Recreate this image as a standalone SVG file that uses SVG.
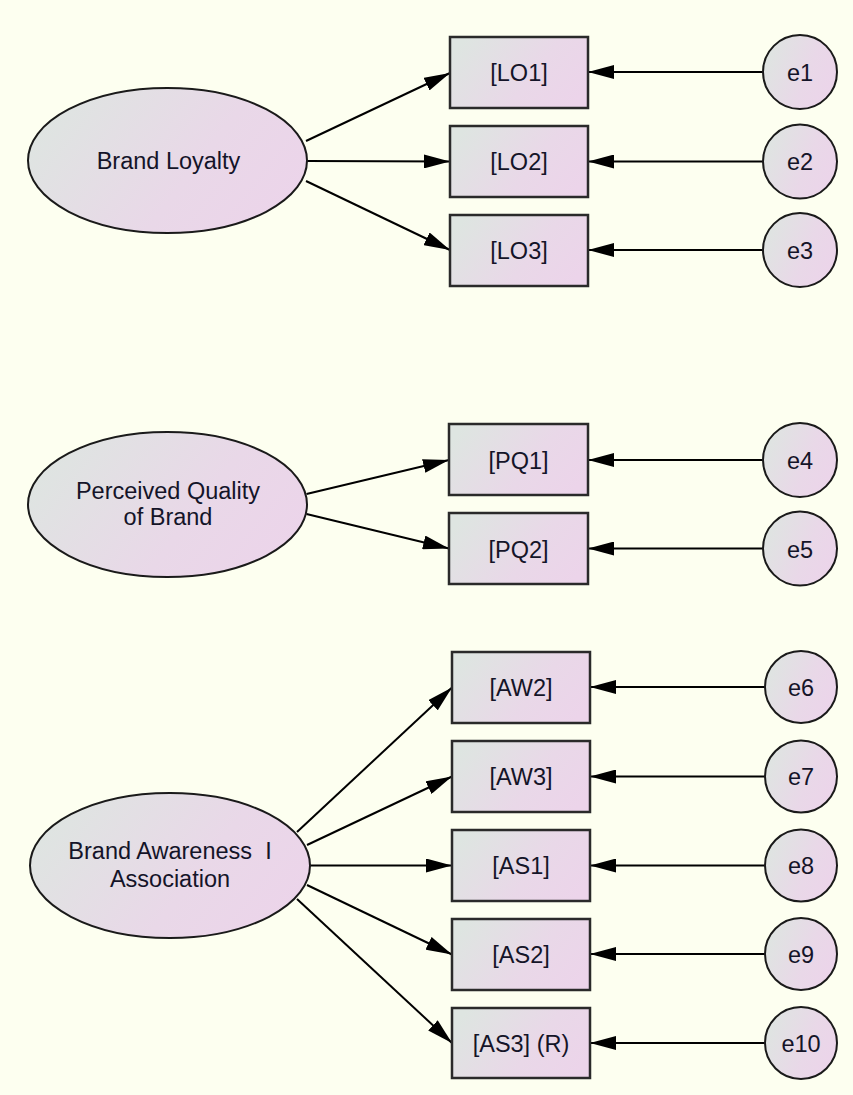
<svg xmlns="http://www.w3.org/2000/svg" width="853" height="1095" viewBox="0 0 853 1095">
<defs>
<linearGradient id="fill" x1="0" y1="0.3" x2="1" y2="0.7">
<stop offset="0" stop-color="#dee5e1"/>
<stop offset="0.6" stop-color="#e9d8e8"/>
<stop offset="1" stop-color="#ecd4ea"/>
</linearGradient>
<marker id="ah" markerUnits="userSpaceOnUse" markerWidth="26" markerHeight="14" refX="26" refY="7" orient="auto">
<path d="M0,0 L26,7 L0,14 z" fill="#000"/>
</marker>
<style>
.lat{fill:url(#fill);stroke:#1a1a1a;stroke-width:2}
.obs{fill:url(#fill);stroke:#2a2a2a;stroke-width:2.5}
.err{fill:url(#fill);stroke:#1a1a1a;stroke-width:2}
text{font-family:"Liberation Sans",Arial,sans-serif;font-size:23.5px;fill:#141428;text-anchor:middle}
.c line{stroke:#000;stroke-width:2;marker-end:url(#ah)}
</style>
</defs>
<rect width="853" height="1095" fill="#fdfff0"/>

<g class="c" id="connectors">
<line x1="306" y1="141" x2="450" y2="73"/>
<line x1="307" y1="161" x2="450" y2="161.5"/>
<line x1="306" y1="181" x2="450" y2="250"/>
<line x1="763" y1="72" x2="588" y2="72"/>
<line x1="763" y1="161.5" x2="588" y2="161.5"/>
<line x1="763" y1="250" x2="588" y2="250"/>

<line x1="306.5" y1="494" x2="449" y2="460"/>
<line x1="306.5" y1="514" x2="449" y2="548.5"/>
<line x1="763" y1="460" x2="588" y2="460"/>
<line x1="763" y1="548.5" x2="588" y2="548.5"/>

<line x1="297" y1="832" x2="452" y2="687.5"/>
<line x1="307" y1="845" x2="452" y2="776.5"/>
<line x1="310" y1="865.5" x2="452" y2="865.5"/>
<line x1="307" y1="885" x2="452" y2="954.5"/>
<line x1="297" y1="899" x2="452" y2="1043"/>
<line x1="765" y1="687" x2="590" y2="687"/>
<line x1="765" y1="776.5" x2="590" y2="776.5"/>
<line x1="765" y1="865.5" x2="590" y2="865.5"/>
<line x1="765" y1="954" x2="590" y2="954"/>
<line x1="765" y1="1043" x2="590" y2="1043"/>
</g>

<g id="brand-loyalty"><ellipse class="lat" cx="167.5" cy="160.5" rx="139.5" ry="72.5"/><text x="168.5" y="169">Brand Loyalty</text></g>
<g id="perceived-quality"><ellipse class="lat" cx="167.5" cy="504.5" rx="139.5" ry="72.5"/><text x="168" y="499">Perceived Quality</text><text x="168" y="524.5">of Brand</text></g>
<g id="brand-awareness"><ellipse class="lat" cx="170" cy="865.5" rx="140" ry="72.5"/><text x="170" y="859" xml:space="preserve" style="white-space:pre">Brand Awareness  I</text><text x="170" y="887">Association</text></g>

<g id="LO1"><rect class="obs" x="450" y="37" width="138" height="71"/><text x="519" y="81">[LO1]</text></g>
<g id="LO2"><rect class="obs" x="450" y="126" width="138" height="71"/><text x="519" y="170">[LO2]</text></g>
<g id="LO3"><rect class="obs" x="450" y="215" width="138" height="71"/><text x="519" y="259">[LO3]</text></g>
<g id="PQ1"><rect class="obs" x="449" y="424" width="139" height="71"/><text x="518.5" y="468.5">[PQ1]</text></g>
<g id="PQ2"><rect class="obs" x="449" y="513" width="139" height="71"/><text x="518.5" y="557.5">[PQ2]</text></g>
<g id="AW2"><rect class="obs" x="452" y="652" width="138" height="71"/><text x="521" y="696">[AW2]</text></g>
<g id="AW3"><rect class="obs" x="452" y="741" width="138" height="71"/><text x="521" y="785">[AW3]</text></g>
<g id="AS1"><rect class="obs" x="452" y="830" width="138" height="71"/><text x="521" y="874">[AS1]</text></g>
<g id="AS2"><rect class="obs" x="452" y="919" width="138" height="71"/><text x="521" y="963">[AS2]</text></g>
<g id="AS3"><rect class="obs" x="452" y="1008" width="138" height="70"/><text x="521" y="1051.5">[AS3] (R)</text></g>

<g id="e1"><circle class="err" cx="800" cy="72" r="37"/><text x="800" y="81">e1</text></g>
<g id="e2"><circle class="err" cx="800" cy="161.5" r="37"/><text x="800" y="170">e2</text></g>
<g id="e3"><circle class="err" cx="800" cy="250" r="37"/><text x="800" y="259">e3</text></g>
<g id="e4"><circle class="err" cx="800" cy="460" r="37"/><text x="800" y="469">e4</text></g>
<g id="e5"><circle class="err" cx="800" cy="548.5" r="37"/><text x="800" y="557.5">e5</text></g>
<g id="e6"><circle class="err" cx="801" cy="687" r="36"/><text x="801" y="696">e6</text></g>
<g id="e7"><circle class="err" cx="801" cy="776.5" r="36"/><text x="801" y="785">e7</text></g>
<g id="e8"><circle class="err" cx="801" cy="865.5" r="36"/><text x="801" y="874">e8</text></g>
<g id="e9"><circle class="err" cx="801" cy="954" r="36"/><text x="801" y="963">e9</text></g>
<g id="e10"><circle class="err" cx="801" cy="1043" r="36"/><text x="801" y="1052">e10</text></g>
</svg>
